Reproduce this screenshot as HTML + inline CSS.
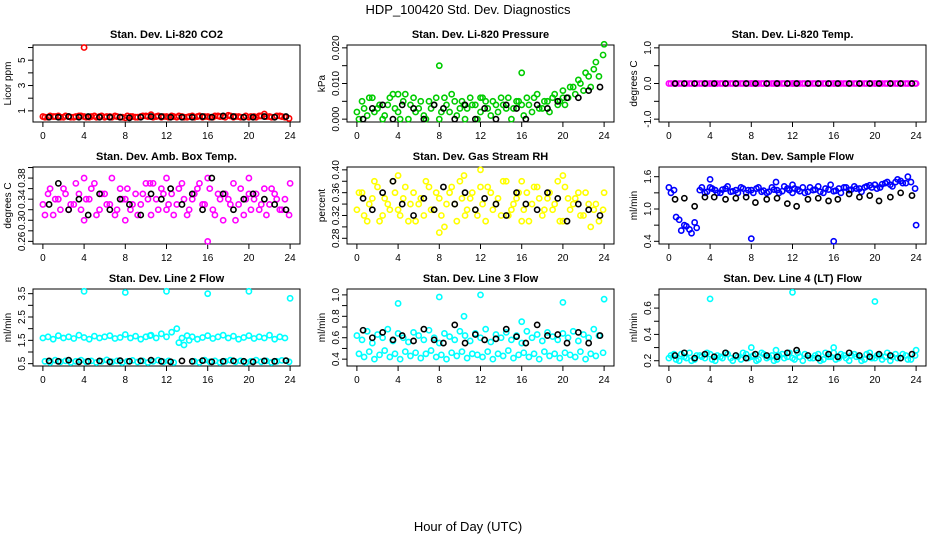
<!DOCTYPE html>
<html><head><meta charset="utf-8"><style>
body{margin:0;background:#fff;}
svg{display:block;font-family:"Liberation Sans",sans-serif;}
</style></head><body>
<svg id="c" width="936" height="540" viewBox="0 0 936 540">
<text x="468" y="14" font-size="13" text-anchor="middle">HDP_100420  Std. Dev. Diagnostics</text>
<text x="468" y="531" font-size="13" text-anchor="middle">Hour of Day (UTC)</text>
</svg>
<script>
const hoursA=[0,0.5,1,1.5,2,2.5,3,3.5,4,4.5,5,5.5,6,6.5,7,7.5,8,8.5,9,9.5,10,10.5,11,11.5,12,12.5,13,13.5,14,14.5,15,15.5,16,16.5,17,17.5,18,18.5,19,19.5,20,20.5,21,21.5,22,22.5,23,23.5];
const hoursC=[0.2,0.7,1.2,1.7,2.2,2.7,3.2,3.7,4.2,4.7,5.2,5.7,6.2,6.7,7.2,7.7,8.2,8.7,9.2,9.7,10.2,10.7,11.2,11.7,12.2,12.7,13.2,13.7,14.2,14.7,15.2,15.7,16.2,16.7,17.2,17.7,18.2,18.7,19.2,19.7,20.2,20.7,21.2,21.7,22.2,22.7,23.2,23.9];
const hoursB=[0.6,1.5,2.5,3.5,4.4,5.5,6.5,7.5,8.4,9.5,10.5,11.5,12.4,13.5,14.5,15.5,16.4,17.5,18.5,19.5,20.4,21.5,22.5,23.6];
const hoursX=[4,8,10.4,12,16,20,24];
const xTicks=[0,4,8,12,16,20,24];

const co2A=[0.55,0.5,0.55,0.6,0.5,0.55,0.5,0.6,0.55,0.5,0.6,0.55,0.5,0.55,0.6,0.5,0.45,0.55,0.5,0.55,0.6,0.7,0.55,0.5,0.55,0.6,0.5,0.55,0.5,0.6,0.55,0.5,0.55,0.5,0.6,0.55,0.65,0.5,0.55,0.5,0.5,0.55,0.6,0.75,0.55,0.5,0.6,0.5];
const co2C=[0.5,0.6,0.55,0.5,0.6,0.5,0.55,0.6,0.5,0.55,0.5,0.6,0.55,0.5,0.55,0.5,0.6,0.55,0.5,0.6,0.55,0.5,0.6,0.55,0.5,0.55,0.6,0.5,0.55,0.5,0.6,0.55,0.5,0.6,0.55,0.5,0.6,0.55,0.5,0.6,0.55,0.5,0.6,0.55,0.5,0.6,0.55,0.4];
const co2X=[6.0];
const co2B=[0.5,0.5,0.55,0.5,0.55,0.5,0.5,0.5,0.45,0.5,0.55,0.55,0.5,0.5,0.5,0.55,0.5,0.6,0.55,0.5,0.5,0.55,0.5,0.55];

const presA=[0.002,0.005,0.001,0.006,0.003,0.0,0.004,0.007,0.002,0.005,0.0,0.006,0.003,0.001,0.005,0.004,0.0,0.006,0.002,0.005,0.003,0.0,0.006,0.004,0.002,0.005,0.001,0.004,0.006,0.003,0.0,0.005,0.004,0.006,0.002,0.007,0.003,0.005,0.006,0.004,0.008,0.006,0.009,0.011,0.008,0.012,0.014,0.012];
const presC=[0.0,0.003,0.006,0.002,0.004,0.001,0.006,0.003,0.0,0.007,0.004,0.002,0.005,0.0,0.003,0.006,0.002,0.004,0.007,0.001,0.005,0.003,0.004,0.0,0.006,0.003,0.005,0.002,0.004,0.006,0.003,0.005,0.001,0.004,0.006,0.003,0.005,0.002,0.007,0.005,0.004,0.009,0.007,0.010,0.013,0.009,0.016,0.018];
const presX=[0.007,0.015,0.004,0.006,0.013,0.006,0.021];
const presB=[0.0,0.003,0.004,0.0,0.004,0.003,0.0,0.004,0.003,0.0,0.004,0.0,0.003,0.0,0.004,0.003,0.0,0.004,0.003,0.005,0.006,0.006,0.008,0.009];

const tempA=hoursA.map(()=>0);
const tempC=hoursC.map(()=>0);
const tempX=[0,0,0,0,0,0,0];
const tempB=hoursB.map(()=>0);

const ambA=[0.33,0.35,0.31,0.34,0.36,0.32,0.33,0.35,0.30,0.34,0.37,0.32,0.35,0.33,0.31,0.36,0.34,0.32,0.35,0.33,0.37,0.31,0.34,0.36,0.32,0.35,0.33,0.37,0.31,0.34,0.36,0.33,0.38,0.32,0.35,0.30,0.34,0.37,0.33,0.31,0.35,0.34,0.32,0.36,0.33,0.35,0.32,0.34];
const ambC=[0.31,0.36,0.34,0.32,0.35,0.33,0.37,0.32,0.34,0.36,0.31,0.35,0.33,0.38,0.32,0.34,0.36,0.33,0.31,0.35,0.34,0.37,0.32,0.35,0.33,0.31,0.36,0.34,0.32,0.35,0.37,0.33,0.36,0.31,0.34,0.35,0.33,0.30,0.36,0.34,0.32,0.35,0.33,0.31,0.36,0.34,0.32,0.31];
const ambX=[0.38,0.30,0.37,0.38,0.26,0.38,0.37];
const ambB=[0.33,0.37,0.32,0.34,0.31,0.35,0.32,0.34,0.33,0.31,0.35,0.34,0.36,0.33,0.35,0.32,0.38,0.35,0.32,0.34,0.35,0.34,0.33,0.32];

const rhA=[0.33,0.36,0.31,0.35,0.37,0.32,0.34,0.38,0.33,0.35,0.31,0.36,0.34,0.32,0.37,0.33,0.35,0.30,0.36,0.34,0.38,0.32,0.35,0.33,0.37,0.31,0.36,0.34,0.32,0.38,0.33,0.35,0.31,0.36,0.34,0.37,0.32,0.35,0.33,0.38,0.31,0.35,0.34,0.36,0.32,0.34,0.33,0.31];
const rhC=[0.36,0.32,0.34,0.38,0.31,0.35,0.33,0.36,0.32,0.37,0.34,0.31,0.35,0.38,0.33,0.36,0.32,0.34,0.37,0.31,0.35,0.33,0.36,0.32,0.34,0.37,0.33,0.35,0.38,0.32,0.34,0.36,0.33,0.31,0.37,0.35,0.33,0.36,0.34,0.31,0.37,0.33,0.35,0.32,0.36,0.30,0.34,0.33];
const rhX=[0.39,0.29,0.39,0.40,0.38,0.39,0.36];
const rhB=[0.35,0.33,0.36,0.38,0.34,0.32,0.35,0.33,0.37,0.34,0.36,0.33,0.35,0.34,0.32,0.36,0.34,0.33,0.36,0.35,0.31,0.34,0.33,0.32];

const flowA=[1.40,1.35,0.80,0.70,0.62,0.75,1.35,1.30,1.40,1.35,1.30,1.38,1.32,1.35,1.40,1.30,1.35,1.38,1.32,1.30,1.40,1.35,1.33,1.38,1.30,1.36,1.40,1.32,1.35,1.42,1.30,1.36,1.33,1.38,1.40,1.35,1.42,1.38,1.40,1.44,1.45,1.40,1.48,1.45,1.50,1.52,1.48,1.50];
const flowC=[1.30,0.85,0.60,0.68,0.55,0.65,1.40,1.32,1.38,1.30,1.36,1.42,1.33,1.30,1.38,1.35,1.30,1.40,1.34,1.32,1.36,1.30,1.42,1.35,1.38,1.33,1.30,1.40,1.36,1.32,1.38,1.45,1.34,1.30,1.40,1.36,1.38,1.32,1.42,1.40,1.38,1.46,1.50,1.42,1.55,1.48,1.60,1.38];
const flowX=[1.55,0.45,1.50,1.45,0.40,1.45,0.70];
const flowB=[1.18,1.20,1.05,1.22,1.22,1.18,1.20,1.22,1.12,1.18,1.20,1.10,1.05,1.18,1.20,1.15,1.18,1.28,1.22,1.25,1.15,1.22,1.30,1.25];

const l2A=[1.60,1.65,1.55,1.70,1.60,1.65,1.58,1.72,1.62,1.55,1.68,1.60,1.65,1.70,1.58,1.62,1.75,1.60,1.68,1.55,1.65,1.72,1.60,1.78,1.65,1.85,2.00,1.60,1.70,1.65,1.55,1.62,1.70,1.58,1.65,1.72,1.60,1.68,1.55,1.62,1.70,1.58,1.65,1.60,1.72,1.55,1.65,1.60];
const l2C=[0.60,0.55,0.65,0.58,0.62,0.55,0.60,0.65,0.58,0.62,0.55,0.60,0.66,0.58,0.62,0.55,0.60,0.64,0.57,0.62,0.55,0.60,0.65,0.58,0.62,0.55,1.40,1.30,1.50,0.60,0.55,0.65,0.58,0.62,0.55,0.60,0.65,0.58,0.62,0.55,0.60,0.65,0.58,0.62,0.55,0.60,0.64,0.58];
const l2X=[3.6,3.55,1.7,3.6,3.5,3.6,3.3];
const l2B=[0.62,0.60,0.65,0.58,0.60,0.62,0.58,0.63,0.60,0.62,0.65,0.60,0.58,0.62,0.60,0.63,0.58,0.60,0.62,0.60,0.58,0.62,0.60,0.63];

const l3A=[0.62,0.58,0.66,0.55,0.63,0.60,0.68,0.57,0.64,0.60,0.56,0.65,0.62,0.58,0.67,0.60,0.55,0.64,0.61,0.58,0.66,0.62,0.57,0.64,0.60,0.68,0.56,0.63,0.60,0.65,0.58,0.62,0.55,0.66,0.60,0.63,0.57,0.65,0.61,0.58,0.64,0.60,0.66,0.57,0.63,0.60,0.68,0.62];
const l3C=[0.45,0.42,0.47,0.40,0.44,0.48,0.42,0.45,0.40,0.47,0.43,0.46,0.41,0.45,0.48,0.42,0.44,0.40,0.46,0.43,0.47,0.41,0.45,0.44,0.42,0.47,0.40,0.45,0.43,0.48,0.41,0.44,0.46,0.42,0.45,0.40,0.47,0.43,0.45,0.41,0.46,0.44,0.42,0.47,0.40,0.45,0.43,0.46];
const l3X=[0.92,0.98,0.80,1.00,0.75,0.93,0.96];
const l3B=[0.67,0.60,0.65,0.58,0.62,0.57,0.68,0.58,0.55,0.72,0.55,0.63,0.58,0.59,0.68,0.61,0.55,0.72,0.62,0.63,0.55,0.65,0.55,0.62];

const l4A=[0.22,0.25,0.20,0.23,0.26,0.21,0.24,0.22,0.25,0.20,0.23,0.26,0.22,0.24,0.21,0.25,0.23,0.20,0.26,0.22,0.24,0.21,0.25,0.23,0.22,0.26,0.20,0.24,0.22,0.25,0.21,0.23,0.26,0.22,0.24,0.20,0.25,0.23,0.21,0.26,0.22,0.24,0.23,0.20,0.25,0.22,0.24,0.21];
const l4C=[0.24,0.21,0.25,0.22,0.20,0.24,0.23,0.26,0.21,0.24,0.22,0.25,0.20,0.23,0.26,0.22,0.24,0.21,0.25,0.23,0.20,0.24,0.22,0.26,0.21,0.23,0.25,0.22,0.24,0.20,0.26,0.23,0.21,0.25,0.22,0.24,0.23,0.20,0.25,0.22,0.24,0.21,0.26,0.23,0.22,0.25,0.21,0.24];
const l4X=[0.67,0.30,0.28,0.72,0.30,0.65,0.28];
const l4B=[0.24,0.26,0.22,0.25,0.23,0.26,0.24,0.22,0.25,0.24,0.23,0.26,0.28,0.24,0.22,0.25,0.23,0.26,0.24,0.23,0.25,0.24,0.22,0.25];

const titles=["Stan. Dev. Li-820 CO2","Stan. Dev. Li-820 Pressure","Stan. Dev. Li-820 Temp.","Stan. Dev. Amb. Box Temp.","Stan. Dev. Gas Stream RH","Stan. Dev. Sample Flow","Stan. Dev. Line 2 Flow","Stan. Dev. Line 3 Flow","Stan. Dev. Line 4 (LT) Flow"];
const yTitles=["Licor ppm","kPa","degrees C","degrees C","percent","ml/min","ml/min","ml/min","ml/min"];
const colors=["#ff0000","#00cc00","#ff00ff","#ff00ff","#ffff00","#0000ff","#00ffff","#00ffff","#00ffff"];
const yLims=[[0.12,6.2],[-0.0008,0.0208],[-1.08,1.08],[0.255,0.401],[0.27,0.405],[0.35,1.78],[0.4,3.7],[0.336,1.055],[0.16,0.745]];
const yTicks=[[1,2,3,4,5,6],[0,0.005,0.01,0.015,0.02],[-1,-0.5,0,0.5,1],[0.26,0.28,0.30,0.32,0.34,0.36,0.38,0.40],[0.28,0.30,0.32,0.34,0.36,0.38,0.40],[0.4,0.7,1.0,1.3,1.6],[0.5,1,1.5,2,2.5,3,3.5],[0.4,0.5,0.6,0.7,0.8,0.9,1.0],[0.2,0.3,0.4,0.5,0.6,0.7]];
const yLabels=[["1","","3","","5",""],["0.000","","0.010","","0.020"],["-1.0","","0.0","","1.0"],["0.26","","0.30","","0.34","","0.38",""],["0.28","","0.32","","0.36","","0.40"],["0.4","","1.0","","1.6"],["0.5","","1.5","","2.5","","3.5"],["0.4","","0.6","","0.8","","1.0"],["0.2","","0.4","","0.6",""]];
const colorSeries=[[co2A,co2C,co2X],[presA,presC,presX],[tempA,tempC,tempX],[ambA,ambC,ambX],[rhA,rhC,rhX],[flowA,flowC,flowX],[l2A,l2C,l2X],[l3A,l3C,l3X],[l4A,l4C,l4X]];
const blackSeries=[co2B,presB,tempB,ambB,rhB,flowB,l2B,l3B,l4B];

const svg=document.getElementById('c');
const NS='http://www.w3.org/2000/svg';
function mk(tag,attrs,parent){const e=document.createElementNS(NS,tag);for(const k in attrs)e.setAttribute(k,attrs[k]);parent.appendChild(e);return e;}
const colL=[33,347,659], W=267, rowT=[45,167,289], H=77;
for(let p=0;p<9;p++){
  const L=colL[p%3], T=rowT[Math.floor(p/3)];
  const g=mk('g',{},svg);
  
  
  const xs=h=>L+W*(h+0.96)/25.92;
  const [y0,y1]=yLims[p];
  const ys=v=>T+H-(v-y0)/(y1-y0)*H;
  const box=mk('rect',{x:L,y:T,width:W,height:H,fill:'none',stroke:'#000','stroke-width':1},g);
  
  
  const t=mk('text',{x:L+W/2,y:T-7,'font-size':11,'font-weight':'bold','text-anchor':'middle'},g);
  t.textContent=titles[p];
  
  
  const yt=mk('text',{x:0,y:0,'font-size':10,'text-anchor':'middle',transform:`translate(${L-22},${T+H/2}) rotate(-90)`},g);
  yt.textContent=yTitles[p];
  
  
  xTicks.forEach(v=>{
    const x=xs(v);
    mk('line',{x1:x,x2:x,y1:T+H,y2:T+H+5,stroke:'#000'},g);
    const tx=mk('text',{x:x,y:T+H+17,'font-size':10,'text-anchor':'middle'},g);
    tx.textContent=v;
    
    
  });
  yTicks[p].forEach((v,i)=>{
    const y=ys(v);
    mk('line',{x1:L-5,x2:L,y1:y,y2:y,stroke:'#000'},g);
    if(yLabels[p][i]){
      const ty=mk('text',{x:0,y:0,'font-size':10,'text-anchor':'middle',transform:`translate(${L-8},${y}) rotate(-90)`},g);
      ty.textContent=yLabels[p][i];
      
      
    }
  });
  const clip=mk('g',{},g);
  const [sA,sC,sX]=colorSeries[p];
  [[hoursA,sA],[hoursC,sC],[hoursX,sX]].forEach(([hs,vs])=>{
    vs.forEach((v,i)=>{
      const c=mk('circle',{cx:xs(hs[i]),cy:ys(v),r:2.6,fill:'none',stroke:colors[p],'stroke-width':1.6},clip);
      
      
    });
  });
  blackSeries[p].forEach((v,i)=>{
    const c=mk('circle',{cx:xs(hoursB[i]),cy:ys(v),r:2.6,fill:'none',stroke:'#000','stroke-width':1.6},clip);
    
    
  });
}
</script>
</body></html>
